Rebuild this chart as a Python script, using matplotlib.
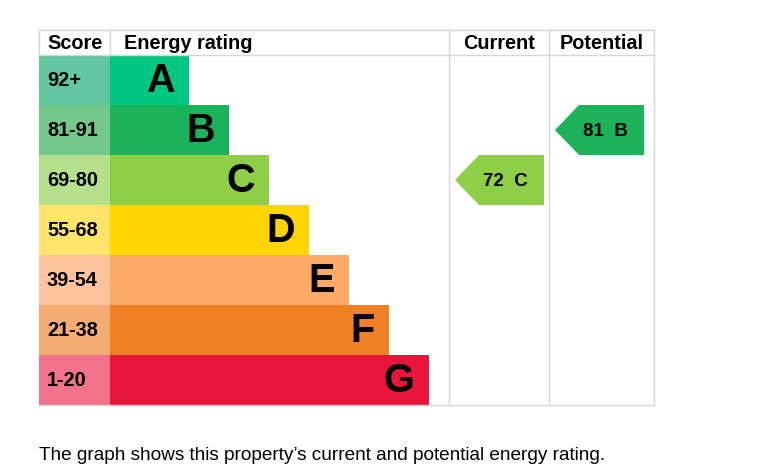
import matplotlib.pyplot as plt
from matplotlib.patches import Rectangle, Polygon

plt.rcParams['font.family'] = ['Liberation Sans', 'DejaVu Sans']

bands = ["A", "B", "C", "D", "E", "F", "G"]
score_labels = ["92+", "81-91", "69-80", "55-68", "39-54", "21-38", "1-20"]
band_mins = [92, 81, 69, 55, 39, 21, 1]
bar_colors = ["#00c781", "#1bb35a", "#8ecf47", "#ffd500", "#fcaa65", "#ef8023", "#e9153b"]
score_colors = ["#62c7a0", "#74c98a", "#b5df8b", "#ffe46a", "#fdc49c", "#f4ac73", "#f27289"]
current = 72
potential = 81
headers = ["Score", "Energy rating", "Current", "Potential"]
caption = "The graph shows this property\u2019s current and potential energy rating."


def band_of(score):
    for i, m in enumerate(band_mins):
        if score >= m:
            return i
    return len(bands) - 1


fig = plt.figure(figsize=(7.67, 4.70), dpi=100)
ax = fig.add_axes([0, 0, 1, 1])
ax.set_xlim(0, 767)
ax.set_ylim(470, 0)
ax.axis("off")

left, score_w, bar0 = 39, 71, 110
cur_x, pot_x, right = 449, 549, 654
top, head_h, row_h = 30, 25, 50
grid = "#d6d6d6"

# rows
for i, (b, lab) in enumerate(zip(bands, score_labels)):
    y = top + head_h + i * row_h
    ax.add_patch(Rectangle((left, y), score_w, row_h, color=score_colors[i], lw=0))
    bar_end = 189 + 40 * i
    ax.add_patch(Rectangle((bar0, y), bar_end - bar0, row_h, color=bar_colors[i], lw=0))
    ax.text(left + 8, y + row_h / 2, lab, fontsize=14.3, fontweight="bold",
            ha="left", va="center")
    ax.text(bar_end - 14.5, y + row_h / 2 + 1, b, fontsize=28.5, fontweight="bold",
            ha="right", va="center")

bottom = top + head_h + len(bands) * row_h

# grid lines
kw = dict(color=grid, lw=1)
ax.plot([left, right], [top, top], **kw)
ax.plot([left, right], [top + head_h, top + head_h], **kw)
ax.plot([left, right], [bottom, bottom], **kw)
ax.plot([left, left], [top, top + head_h], **kw)
ax.plot([bar0, bar0], [top, top + head_h], **kw)
for x in (cur_x, pot_x, right):
    ax.plot([x, x], [top, bottom], **kw)

# headers
hy = top + head_h / 2 + 1
hs = 14.3
ax.text(left + 8, hy, headers[0], fontsize=hs, fontweight="bold", ha="left", va="center")
ax.text(bar0 + 14, hy, headers[1], fontsize=hs, fontweight="bold", ha="left", va="center")
ax.text((cur_x + pot_x) / 2, hy, headers[2], fontsize=hs, fontweight="bold", ha="center", va="center")
ax.text((pot_x + right) / 2, hy, headers[3], fontsize=hs, fontweight="bold", ha="center", va="center")


def arrow(x0, x1, score):
    i = band_of(score)
    y = top + head_h + i * row_h
    tip = 24
    pts = [(x0, y + row_h / 2), (x0 + tip, y), (x1, y), (x1, y + row_h), (x0 + tip, y + row_h)]
    ax.add_patch(Polygon(pts, closed=True, color=bar_colors[i], lw=0))
    ax.text((x0 + tip + x1) / 2 - 6, y + row_h / 2 + 1, f"{score}  {bands[i]}",
            fontsize=13.5, fontweight="bold", ha="center", va="center")


arrow(cur_x + 6, pot_x - 5, current)
arrow(pot_x + 6, right - 10, potential)

ax.text(left, 455, caption, fontsize=13.7, ha="left", va="center")

fig.savefig("out.png", dpi=100)
